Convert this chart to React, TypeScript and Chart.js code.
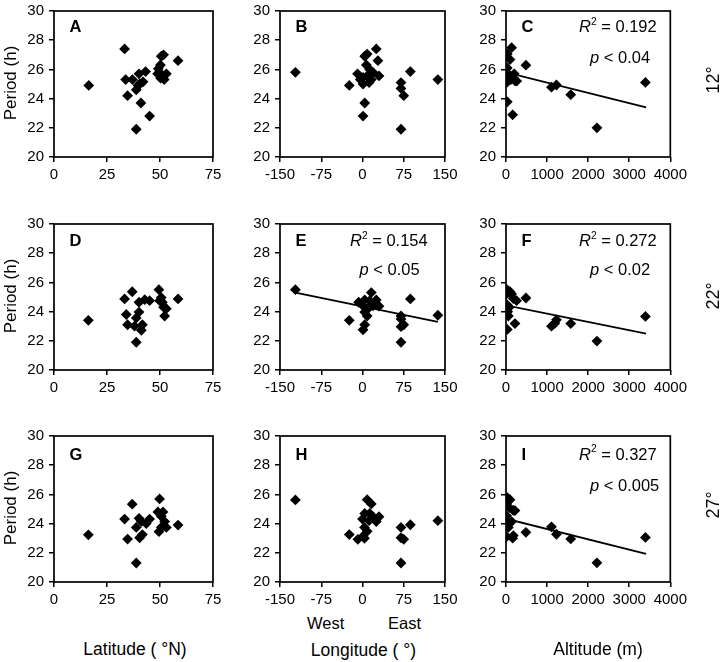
import React, { useEffect, useRef } from 'react';
import { Chart, registerables } from 'chart.js';

Chart.register(...registerables);

// ---------------- DATA ----------------
// Row 1 (12 °C)
const latA = [16.4, 33.3, 33.8, 34.7, 37.0, 38.8, 38.8, 40.1, 40.4, 41.0, 42.0, 43.2, 45.1, 48.9, 49.2, 50.2, 50.6, 51.7, 50.3, 52.0, 53.0, 58.5, 49.8, 39.6];
const perA = [24.9, 27.4, 25.3, 24.2, 25.3, 24.6, 21.9, 25.7, 25.0, 23.7, 25.15, 25.85, 22.8, 25.7, 26.05, 26.3, 26.9, 27.0, 25.4, 25.3, 25.7, 26.6, 25.8, 24.9];

const lonB = [-122, -24, -9, 1, 1, 4, 4, 8.5, 7, 1, 8.5, 13, 16, 19, 25, 28, 30, 70, 70, 75, 70, 87, 137, -4, 12];
const perB = [25.8, 24.9, 25.7, 25.0, 22.8, 23.7, 26.9, 27.05, 26.3, 25.45, 25.55, 26.0, 25.3, 25.8, 27.4, 26.6, 25.55, 25.1, 24.7, 24.2, 21.9, 25.85, 25.3, 25.3, 25.1];

const altC = [3394, 2214, 1576, 1228, 1107, 485, 32, 137, 32, 162, 16, 16, 57, 97, 218, 260, 30, 80, 120, 200, 45];
const perC = [25.11, 22.0, 24.27, 24.93, 24.78, 26.29, 27.05, 27.49, 23.78, 22.89, 25.8, 25.1, 25.45, 26.67, 25.22, 25.2, 26.1, 25.6, 25.3, 25.7, 25.67];
const fitCx = [0, 3410];
const fitCy = [25.8, 23.4];

// Row 2 (22 °C)
const latD = [16.2, 33.3, 36.9, 34.1, 34.7, 38.8, 38.8, 40.1, 41.7, 41.2, 40.1, 42.8, 45.1, 49.5, 49.8, 51.1, 51.7, 53.0, 52.2, 58.5, 38.0, 50.6];
const perD = [23.4, 24.87, 25.36, 23.8, 23.1, 21.9, 23.57, 23.97, 23.1, 22.72, 24.64, 24.82, 24.75, 25.5, 24.75, 24.64, 24.3, 24.2, 23.7, 24.87, 23.0, 24.96];

const lonE = [-122, -24, -7, 1, 4, 4, 1, 4, 8.5, 16, 13, 19, 25, 30, 70, 70, 75, 70, 87, 137, 70, 10];
const perE = [25.5, 23.4, 24.64, 22.75, 23.1, 23.97, 24.4, 24.8, 23.7, 25.3, 24.75, 24.4, 24.8, 24.37, 23.7, 22.97, 23.1, 21.9, 24.87, 23.75, 23.5, 24.2];
const fitEx = [-122, 137];
const fitEy = [25.3, 23.3];

const altF = [3394, 2214, 1576, 1228, 1107, 1190, 485, 218, 32, 32, 97, 16, 22, 22, 57, 137, 178, 258, 80, 40];
const perF = [23.67, 21.98, 23.18, 23.44, 23.0, 23.2, 24.93, 23.18, 22.78, 25.49, 25.36, 25.22, 24.47, 23.93, 23.7, 25.2, 24.89, 24.75, 24.3, 24.0];
const fitFx = [0, 3410];
const fitFy = [24.43, 22.49];

// Row 3 (27 °C)
const latG = [16.2, 33.3, 36.9, 34.7, 38.8, 38.8, 40.4, 40.1, 41.7, 41.2, 43.5, 45.1, 49.8, 49.0, 50.6, 51.4, 49.5, 52.2, 53.0, 58.5, 50.6];
const perG = [23.23, 24.31, 25.33, 22.94, 21.3, 23.74, 23.03, 24.36, 23.25, 24.14, 24.0, 24.31, 25.69, 24.8, 24.5, 24.8, 23.45, 24.14, 23.74, 23.9, 23.74];

const lonH = [-122, -24, -8.5, 1, 3.6, 3.6, 0, 4, 8.5, 8.5, 16, 13, 19, 25, 30, 70, 70, 75, 70, 87, 137, 12];
const perH = [25.62, 23.25, 22.92, 23.14, 22.99, 23.74, 24.31, 24.7, 23.47, 25.64, 25.35, 24.7, 24.47, 24.14, 24.47, 23.74, 23.03, 22.92, 21.3, 23.92, 24.2, 24.2];

const altI = [3394, 2214, 1576, 1228, 1107, 485, 218, 162, 32, 32, 97, 16, 16, 16, 57, 137, 178, 178, 81];
const perI = [23.05, 21.31, 22.95, 23.27, 23.78, 23.4, 24.89, 23.0, 25.78, 25.44, 25.64, 23.11, 24.0, 24.53, 23.74, 24.14, 24.9, 23.18, 25.1];
const fitIx = [0, 3410];
const fitIy = [24.33, 21.93];

// axes
const latRange = [0, 75, 25];
const lonRange = [-150, 150, 75];
const altRange = [0, 4000, 1000];
const periodRange = [20, 30, 2];

const panelLetters = ['A', 'B', 'C', 'D', 'E', 'F', 'G', 'H', 'I'];
const rowLabels = ['12°', '22°', '27°'];
const statR2 = ['0.192', '0.154', '0.272', '0.327'];
const statP = ['0.04', '0.05', '0.02', '0.005'];

// ---------------- LAYOUT ----------------
const FONT = '"Liberation Sans", Arial, Helvetica, sans-serif';
const COL_LEFT = [54, 280, 506];
const COL_W = [159, 165, 165];
const ROW_TOP = [7, 220, 432];
const PLOT_H = 150;
const Y_AXIS_W = 44;
const PAD_TOP = 10;
const PAD_RIGHT = 20;
const X_AXIS_H = 30;

const framePlugin = {
  id: 'frame',
  afterDatasetsDraw(chart: any) {
    const { ctx, chartArea } = chart;
    const { left, top, right, bottom } = chartArea;
    ctx.save();
    ctx.strokeStyle = '#000';
    ctx.lineWidth = 1.7;
    ctx.strokeRect(left, top, right - left, bottom - top);
    ctx.restore();
  },
};

type PanelProps = {
  xs: number[];
  ys: number[];
  fx?: number[];
  fy?: number[];
  range: number[];
  col: number;
  row: number;
};

function ScatterPanel({ xs, ys, fx, fy, range, col, row }: PanelProps) {
  const ref = useRef<HTMLCanvasElement>(null);
  const w = Y_AXIS_W + COL_W[col] + PAD_RIGHT;
  const h = PAD_TOP + PLOT_H + X_AXIS_H;
  useEffect(() => {
    const datasets: any[] = [
      {
        data: xs.map((x, i) => ({ x, y: ys[i] })),
        pointStyle: 'rectRot',
        pointRadius: 5.4,
        pointHoverRadius: 5.4,
        backgroundColor: '#000',
        borderColor: '#000',
        borderWidth: 0,
        showLine: false,
      },
    ];
    if (fx && fy) {
      datasets.push({
        data: fx.map((x, i) => ({ x, y: fy[i] })),
        showLine: true,
        borderColor: '#000',
        borderWidth: 1.9,
        pointRadius: 0,
        fill: false,
        tension: 0,
      });
    }
    const tickFont = { family: FONT, size: 15 };
    const grid = { drawOnChartArea: false, drawTicks: true, tickLength: 5, color: '#000', lineWidth: 1.5 };
    const chart = new Chart(ref.current as HTMLCanvasElement, {
      type: 'scatter',
      data: { datasets },
      options: {
        animation: false,
        responsive: false,
        devicePixelRatio: 1,
        events: [],
        layout: { padding: { left: 0, top: PAD_TOP, right: PAD_RIGHT, bottom: 0 } },
        plugins: { legend: { display: false }, tooltip: { enabled: false } },
        scales: {
          x: {
            type: 'linear',
            min: range[0],
            max: range[1],
            ticks: {
              stepSize: range[2],
              color: '#000',
              font: tickFont,
              padding: 4,
              maxRotation: 0,
              autoSkip: false,
              callback: (v: any) => String(v),
            },
            grid,
            border: { display: false },
            afterFit: (s: any) => {
              s.height = X_AXIS_H;
            },
          },
          y: {
            type: 'linear',
            min: periodRange[0],
            max: periodRange[1],
            ticks: {
              stepSize: periodRange[2],
              color: '#000',
              font: tickFont,
              padding: 5,
              autoSkip: false,
              callback: (v: any) => String(v),
            },
            grid,
            border: { display: false },
            afterFit: (s: any) => {
              s.width = Y_AXIS_W;
            },
          },
        },
      } as any,
      plugins: [framePlugin],
    });
    return () => chart.destroy();
  }, []);
  return (
    <canvas
      ref={ref}
      width={w}
      height={h}
      style={{ position: 'absolute', left: COL_LEFT[col] - Y_AXIS_W, top: ROW_TOP[row] - PAD_TOP, width: w, height: h }}
    />
  );
}

type TxtProps = {
  x: number;
  y: number;
  size: number;
  align?: 'left' | 'center' | 'right';
  bold?: boolean;
  italic?: boolean;
  children: React.ReactNode;
};

function Txt({ x, y, size, align = 'left', bold, italic, children }: TxtProps) {
  const transform = align === 'center' ? 'translateX(-50%)' : align === 'right' ? 'translateX(-100%)' : undefined;
  return (
    <div
      style={{
        position: 'absolute',
        left: x,
        top: y - 0.8465 * size,
        fontSize: size,
        lineHeight: `${size}px`,
        fontWeight: bold ? 700 : 400,
        fontStyle: italic ? 'italic' : 'normal',
        whiteSpace: 'nowrap',
        transform,
        color: '#000',
      }}
    >
      {children}
    </div>
  );
}

function VTxt({ cx, cy, size, children }: { cx: number; cy: number; size: number; children: React.ReactNode }) {
  return (
    <div
      style={{
        position: 'absolute',
        left: cx,
        top: cy,
        fontSize: size,
        lineHeight: `${size}px`,
        whiteSpace: 'nowrap',
        color: '#000',
        transform: 'translate(-50%, -50%) rotate(-90deg)',
      }}
    >
      {children}
    </div>
  );
}

function R2({ v }: { v: string }) {
  return (
    <>
      <i>R</i>
      <span style={{ fontSize: '0.62em', position: 'relative', top: '-0.7em' }}>2</span> = {v}
    </>
  );
}

function P({ v }: { v: string }) {
  return (
    <>
      <i>p</i> &lt; {v}
    </>
  );
}

export default function App() {
  const letterBase = [32.3, 246, 460];
  const r2Base = [32.3, 246, 459.5];
  const pBase = [62.5, 274.5, 490.5];
  const periodCy = [83, 296, 508];
  const rowCy = [80, 296, 505];

  const panels: PanelProps[] = [
    { xs: latA, ys: perA, range: latRange, col: 0, row: 0 },
    { xs: lonB, ys: perB, range: lonRange, col: 1, row: 0 },
    { xs: altC, ys: perC, fx: fitCx, fy: fitCy, range: altRange, col: 2, row: 0 },
    { xs: latD, ys: perD, range: latRange, col: 0, row: 1 },
    { xs: lonE, ys: perE, fx: fitEx, fy: fitEy, range: lonRange, col: 1, row: 1 },
    { xs: altF, ys: perF, fx: fitFx, fy: fitFy, range: altRange, col: 2, row: 1 },
    { xs: latG, ys: perG, range: latRange, col: 0, row: 2 },
    { xs: lonH, ys: perH, range: lonRange, col: 1, row: 2 },
    { xs: altI, ys: perI, fx: fitIx, fy: fitIy, range: altRange, col: 2, row: 2 },
  ];

  // which panels carry statistics: C, E, F, I
  const stats = [
    { col: 2, row: 0, i: 0 },
    { col: 1, row: 1, i: 1 },
    { col: 2, row: 1, i: 2 },
    { col: 2, row: 2, i: 3 },
  ];

  return (
    <div
      style={{
        position: 'absolute',
        left: 0,
        top: 0,
        width: 720,
        height: 662,
        background: '#fff',
        fontFamily: FONT,
        overflow: 'hidden',
      }}
    >
      {panels.map((p, k) => (
        <ScatterPanel key={k} {...p} />
      ))}

      {panels.map((p, k) => (
        <Txt key={'l' + k} x={COL_LEFT[p.col] + 15.5} y={letterBase[p.row]} size={16.5} bold>
          {panelLetters[k]}
        </Txt>
      ))}

      {stats.map((s) => (
        <React.Fragment key={'s' + s.i}>
          <Txt x={COL_LEFT[s.col] + (s.col === 2 ? 73 : 70)} y={r2Base[s.row]} size={16.5}>
            <R2 v={statR2[s.i]} />
          </Txt>
          <Txt x={COL_LEFT[s.col] + (s.col === 2 ? 84 : 79.5)} y={pBase[s.row]} size={16.5}>
            <P v={statP[s.i]} />
          </Txt>
        </React.Fragment>
      ))}

      {periodCy.map((cy, k) => (
        <VTxt key={'p' + k} cx={9.5} cy={cy} size={17}>
          Period (h)
        </VTxt>
      ))}

      {rowCy.map((cy, k) => (
        <VTxt key={'r' + k} cx={712.5} cy={cy} size={18}>
          {rowLabels[k]}
        </VTxt>
      ))}

      <Txt x={307} y={629} size={16.5}>West</Txt>
      <Txt x={388} y={629} size={16.5}>East</Txt>

      <Txt x={135} y={656} size={17.5} align="center">Latitude ( °N)</Txt>
      <Txt x={363.5} y={657} size={17.5} align="center">Longitude ( °)</Txt>
      <Txt x={598} y={656} size={17.5} align="center">Altitude (m)</Txt>
    </div>
  );
}
